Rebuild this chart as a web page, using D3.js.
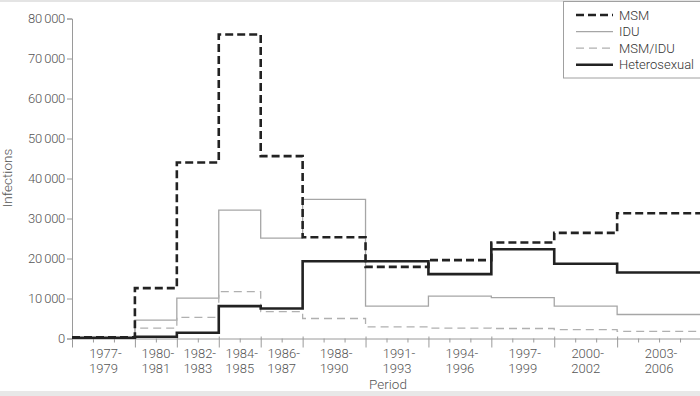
<!DOCTYPE html>
<html>
<head>
<meta charset="utf-8">
<script src="https://cdn.jsdelivr.net/npm/d3@7"></script>
<style>
  body { margin: 0; background: #fff; }
  svg { display: block; font-family: Roboto, 'Liberation Sans', sans-serif; font-weight: 300; }
</style>
</head>
<body>
<div id="chart"></div>
<script>
// period start years, last entry closes the final period
const periodStarts = [1977, 1980, 1982, 1984, 1986, 1988, 1991, 1994, 1997, 2000, 2003]
const periodEnd = 2007
const periodLabels = [
  ['1977-', '1979'], ['1980-', '1981'], ['1982-', '1983'], ['1984-', '1985'],
  ['1986-', '1987'], ['1988-', '1990'], ['1991-', '1993'], ['1994-', '1996'],
  ['1997-', '1999'], ['2000-', '2002'], ['2003-', '2006']
]

const msm = [300, 12600, 44000, 76000, 45600, 25300, 17900, 19600, 24000, 26400, 31300]
const idu = [150, 4600, 10100, 32100, 25100, 34800, 8100, 10600, 10200, 8100, 6000]
const msmIdu = [150, 2600, 5300, 11700, 6700, 5000, 2900, 2600, 2500, 2200, 1800]
const hetero = [200, 450, 1450, 8100, 7500, 19300, 19300, 16100, 22300, 18700, 16500]

const yTicks = [0, 10000, 20000, 30000, 40000, 50000, 60000, 70000, 80000]

const series = [
  { name: 'IDU', values: idu, color: '#a6a6a6', width: 1.3, dash: null },
  { name: 'MSM/IDU', values: msmIdu, color: '#b0b0b0', width: 1.3, dash: '8,5' },
  { name: 'Heterosexual', values: hetero, color: '#222', width: 2.6, dash: null },
  { name: 'MSM', values: msm, color: '#222', width: 2.6, dash: '8,4' }
]
const legendOrder = ['MSM', 'IDU', 'MSM/IDU', 'Heterosexual']

const totalWidth = 700
const totalHeight = 396

const svg = d3
  .select('#chart')
  .append('svg')
  .attr('width', totalWidth)
  .attr('height', totalHeight)

// light frame bands top and bottom
svg.append('rect').attr('x', 0).attr('y', 0).attr('width', totalWidth).attr('height', 2).attr('fill', '#e4e4e4')
svg.append('rect').attr('x', 0).attr('y', 391).attr('width', totalWidth).attr('height', 5).attr('fill', '#e8e8e8')

const xPositionScale = d3.scaleLinear().domain([1977, periodEnd]).range([72, 701])
const yPositionScale = d3.scaleLinear().domain([0, 80000]).range([338.5, 18.5])

const axisColor = '#9a9a9a'
const textColor = '#555'

// y axis
const yAxis = d3
  .axisLeft(yPositionScale)
  .tickValues(yTicks)
  .tickSize(5)
  .tickPadding(2)
  .tickFormat(d => d3.format(',')(d).replace(',', '\u2009'))

const yG = svg
  .append('g')
  .attr('class', 'axis y-axis')
  .attr('transform', `translate(${xPositionScale(1977)},0)`)
  .call(yAxis)
yG.select('.domain').attr('stroke', axisColor)
yG.selectAll('.tick line').attr('stroke', axisColor)
yG.selectAll('.tick text')
  .attr('fill', textColor)
  .style('font-size', '13px')
  .style('font-family', 'Roboto, sans-serif')
  .style('font-weight', 300)
  .style('letter-spacing', '-0.3px')

// x axis: yearly minor ticks, long ticks at period boundaries
const years = d3.range(1977, periodEnd + 1)
const xAxis = d3
  .axisBottom(xPositionScale)
  .tickValues(years)
  .tickSize(4)
  .tickFormat('')

const xG = svg
  .append('g')
  .attr('class', 'axis x-axis')
  .attr('transform', `translate(0,${yPositionScale(0)})`)
  .call(xAxis)
xG.select('.domain').attr('stroke', axisColor)
xG.selectAll('.tick line')
  .attr('stroke', axisColor)
  .attr('y1', d => (periodStarts.includes(d) ? -2 : 0))
  .attr('y2', d => (periodStarts.includes(d) ? 9 : 4))

// period labels
const labelG = svg.append('g').attr('fill', textColor).style('font-size', '13px')
periodStarts.forEach((start, i) => {
  const end = i + 1 < periodStarts.length ? periodStarts[i + 1] : periodEnd
  const cx = (xPositionScale(start) + xPositionScale(end)) / 2
  const t = labelG.append('text').attr('text-anchor', 'middle')
  t.append('tspan').attr('x', cx + 2).attr('y', 358).text(periodLabels[i][0])
  t.append('tspan').attr('x', cx).attr('y', 373).text(periodLabels[i][1])
})

// axis titles
svg.append('text')
  .attr('x', 388)
  .attr('y', 389)
  .attr('text-anchor', 'middle')
  .attr('fill', textColor)
  .style('font-size', '13.5px')
  .text('Period')

svg.append('text')
  .attr('transform', 'translate(12,178) rotate(-90)')
  .attr('text-anchor', 'middle')
  .attr('fill', textColor)
  .style('font-size', '13.5px')
  .text('Infections')

// step lines
const line = d3
  .line()
  .x(d => xPositionScale(d.year))
  .y(d => yPositionScale(d.value))
  .curve(d3.curveStepAfter)

series.forEach(s => {
  const pts = periodStarts.map((year, i) => ({ year, value: s.values[i] }))
  pts.push({ year: periodEnd, value: s.values[s.values.length - 1] })
  svg.append('path')
    .datum(pts)
    .attr('d', line)
    .attr('fill', 'none')
    .attr('stroke', s.color)
    .attr('stroke-width', s.width)
    .attr('stroke-dasharray', s.dash)
})

// legend
const legend = svg.append('g').attr('class', 'legend')
legend.append('rect')
  .attr('x', 563.5)
  .attr('y', 1.5)
  .attr('width', 150)
  .attr('height', 76.5)
  .attr('fill', '#fff')
  .attr('stroke', '#a0a0a0')

legendOrder.forEach((name, i) => {
  const s = series.find(d => d.name === name)
  const y = 15 + i * 16.6
  legend.append('line')
    .attr('x1', 576)
    .attr('x2', 613)
    .attr('y1', y)
    .attr('y2', y)
    .attr('stroke', s.color)
    .attr('stroke-width', s.width)
    .attr('stroke-dasharray', s.dash)
  legend.append('text')
    .attr('x', 619)
    .attr('y', y + 4.5)
    .attr('fill', '#333')
    .style('font-size', '13px')
    .text(name)
})
</script>
</body>
</html>
